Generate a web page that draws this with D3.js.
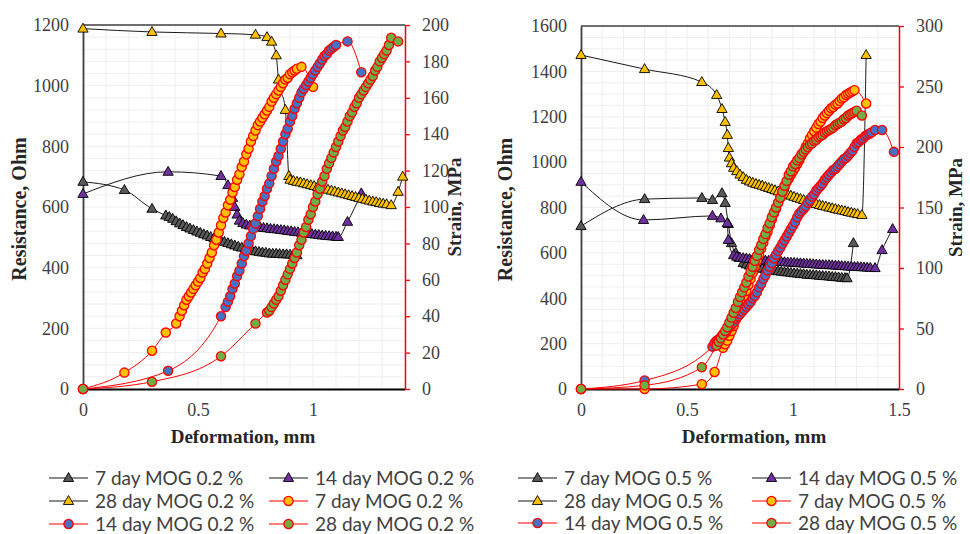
<!DOCTYPE html>
<html><head><meta charset="utf-8">
<script src="https://cdn.jsdelivr.net/npm/d3@7"></script>
<style>body{margin:0;background:#fff} svg{display:block}</style>
</head><body>
<svg id="c" width="970" height="534"></svg>
<script>
// ---------- DATA : MOG 0.2 % (left panel) ----------
const xTicksA = [0, 0.5, 1];
const resTicksA = [0, 200, 400, 600, 800, 1000, 1200];
const strTicksA = [0, 20, 40, 60, 80, 100, 120, 140, 160, 180, 200];
const labelsA = ["7 day MOG 0.2 %", "14 day MOG 0.2 %", "28 day MOG 0.2 %", "7 day MOG 0.2 %", "14 day MOG 0.2 %", "28 day MOG 0.2 %"];

const res7A = [[0,683],[0.18,656],[0.30,594],[0.36,572],[0.375,567],[0.39,561],[0.405,553],[0.42,546],[0.435,540],[0.45,534],[0.465,529],[0.48,524],[0.495,519],[0.51,515],[0.525,510],[0.54,506],[0.555,501],[0.57,497],[0.585,493],[0.60,489],[0.615,485],[0.63,481],[0.645,477],[0.66,473],[0.675,469],[0.69,466],[0.705,463],[0.72,460],[0.735,457],[0.75,454],[0.765,452],[0.78,450],[0.795,449],[0.81,447],[0.825,446],[0.84,446],[0.855,445],[0.87,444],[0.885,444],[0.90,443],[0.915,442],[0.93,441]];
const res14A = [[0,643],[0.37,716],[0.60,702],[0.63,672],[0.65,630],[0.66,600],[0.67,575],[0.68,555],[0.695,547],[0.71,542],[0.725,539],[0.74,537],[0.755,535],[0.77,533],[0.785,531],[0.80,530],[0.815,528],[0.83,527],[0.845,526],[0.86,524],[0.875,523],[0.89,521],[0.905,520],[0.92,518],[0.935,517],[0.95,515],[0.965,514],[0.98,512],[0.995,511],[1.01,509],[1.025,508],[1.04,506],[1.055,505],[1.07,504],[1.085,503],[1.10,502],[1.11,501],[1.15,551],[1.21,645]];
const res28A = [[0,1188],[0.30,1177],[0.60,1172],[0.75,1168],[0.80,1160],[0.82,1145],[0.84,1100],[0.85,1020],[0.88,920],[0.895,702],[0.90,690],[0.915,686],[0.93,683],[0.945,681],[0.96,678],[0.975,675],[0.99,672],[1.005,669],[1.02,666],[1.035,663],[1.05,660],[1.065,657],[1.08,654],[1.095,651],[1.11,648],[1.125,645],[1.14,642],[1.155,639],[1.17,636],[1.185,633],[1.20,630],[1.215,627],[1.23,624],[1.245,621],[1.26,618],[1.275,616],[1.29,613],[1.305,611],[1.32,609],[1.34,606],[1.37,650],[1.39,700]];
const str7A = [[0,0],[0.18,9],[0.30,21],[0.36,31],[0.405,36],[0.42,40],[0.43,43],[0.44,46],[0.45,49],[0.46,51],[0.47,53],[0.48,55],[0.49,57],[0.50,59],[0.51,61],[0.52,64],[0.53,66],[0.54,69],[0.55,72],[0.56,75],[0.57,79],[0.58,82],[0.59,86],[0.60,90],[0.61,94],[0.62,97],[0.63,101],[0.64,104],[0.65,108],[0.66,111],[0.67,115],[0.68,118],[0.69,122],[0.70,125],[0.71,129],[0.72,132],[0.73,136],[0.74,139],[0.75,142],[0.76,145],[0.77,147],[0.78,149],[0.79,151],[0.80,153],[0.81,155],[0.82,158],[0.83,160],[0.84,162],[0.85,164],[0.86,166],[0.87,168],[0.88,170],[0.89,171],[0.90,173],[0.91,174],[0.92,175],[0.93,176],[0.95,177],[1.00,166]];
const str14A = [[0,0],[0.37,10],[0.60,40],[0.62,45],[0.63,48],[0.64,51],[0.65,55],[0.66,58],[0.67,62],[0.68,65],[0.69,69],[0.70,73],[0.71,76],[0.72,80],[0.73,84],[0.74,88],[0.75,91],[0.76,95],[0.77,99],[0.78,103],[0.79,106],[0.80,110],[0.81,113],[0.82,117],[0.83,121],[0.84,125],[0.85,128],[0.86,132],[0.87,136],[0.88,140],[0.89,143],[0.90,147],[0.91,150],[0.92,154],[0.93,157],[0.94,160],[0.95,163],[0.96,165],[0.97,167],[0.98,169],[0.99,171],[1.00,173],[1.01,175],[1.02,177],[1.03,179],[1.04,181],[1.05,183],[1.06,184],[1.07,186],[1.08,187],[1.09,188],[1.10,189],[1.15,191],[1.21,174]];
const str28A = [[0,0],[0.30,4],[0.60,18],[0.75,36],[0.80,42],[0.81,43],[0.82,45],[0.83,47],[0.84,49],[0.85,51],[0.86,54],[0.87,57],[0.88,60],[0.89,63],[0.90,66],[0.91,69],[0.92,72],[0.93,75],[0.94,79],[0.95,82],[0.96,86],[0.97,89],[0.98,93],[0.99,96],[1.00,100],[1.01,103],[1.02,107],[1.03,110],[1.04,114],[1.05,117],[1.06,121],[1.07,124],[1.08,127],[1.09,130],[1.10,133],[1.11,136],[1.12,139],[1.13,142],[1.14,144],[1.15,147],[1.16,150],[1.17,152],[1.18,155],[1.19,157],[1.20,160],[1.21,162],[1.22,164],[1.23,166],[1.24,168],[1.25,170],[1.26,172],[1.27,175],[1.28,177],[1.29,180],[1.30,182],[1.31,184],[1.32,186],[1.33,189],[1.34,193],[1.37,191]];

// ---------- DATA : MOG 0.5 % (right panel) ----------
const xTicksB = [0, 0.5, 1, 1.5];
const resTicksB = [0, 200, 400, 600, 800, 1000, 1200, 1400, 1600];
const strTicksB = [0, 50, 100, 150, 200, 250, 300];
const labelsB = ["7 day MOG 0.5 %", "14 day MOG 0.5 %", "28 day MOG 0.5 %", "7 day MOG 0.5 %", "14 day MOG 0.5 %", "28 day MOG 0.5 %"];

const res7B = [[0,718],[0.30,837],[0.57,842],[0.62,833],[0.665,863],[0.68,820],[0.695,727],[0.71,643],[0.73,600],[0.745,578],[0.765,555],[0.78,549],[0.795,544],[0.81,540],[0.825,537],[0.84,533],[0.855,530],[0.87,527],[0.885,525],[0.90,523],[0.915,521],[0.93,519],[0.945,517],[0.96,515],[0.975,514],[0.99,512],[1.005,510],[1.02,509],[1.035,507],[1.05,506],[1.065,504],[1.08,503],[1.095,502],[1.11,501],[1.125,499],[1.14,498],[1.155,497],[1.17,496],[1.185,494],[1.20,493],[1.215,492],[1.23,490],[1.245,489],[1.255,488],[1.285,643]];
const res14B = [[0,913],[0.295,745],[0.62,763],[0.66,752],[0.69,731],[0.695,657],[0.72,590],[0.735,583],[0.75,579],[0.765,577],[0.78,575],[0.795,573],[0.81,572],[0.825,570],[0.84,569],[0.855,567],[0.87,566],[0.885,565],[0.90,563],[0.915,562],[0.93,561],[0.945,560],[0.96,559],[0.975,558],[0.99,557],[1.005,556],[1.02,555],[1.035,554],[1.05,553],[1.065,552],[1.08,551],[1.095,550],[1.11,549],[1.125,548],[1.14,547],[1.155,546],[1.17,546],[1.185,545],[1.20,544],[1.215,543],[1.23,542],[1.245,541],[1.26,540],[1.275,539],[1.29,538],[1.305,538],[1.32,537],[1.335,536],[1.35,535],[1.365,534],[1.387,533],[1.42,612],[1.47,705]];
const res28B = [[0,1472],[0.30,1410],[0.57,1353],[0.64,1296],[0.665,1234],[0.68,1177],[0.69,1120],[0.695,1062],[0.70,1020],[0.71,995],[0.72,975],[0.735,960],[0.75,945],[0.765,934],[0.78,922],[0.795,915],[0.81,909],[0.825,904],[0.84,900],[0.855,896],[0.87,891],[0.885,886],[0.90,881],[0.915,876],[0.93,871],[0.945,866],[0.96,861],[0.975,856],[0.99,852],[1.005,847],[1.02,842],[1.035,838],[1.05,833],[1.065,829],[1.08,824],[1.095,820],[1.11,815],[1.125,811],[1.14,807],[1.155,804],[1.17,800],[1.185,797],[1.20,793],[1.215,790],[1.23,787],[1.245,784],[1.26,780],[1.275,777],[1.29,774],[1.305,771],[1.325,767],[1.345,1472]];
const str7B = [[0,0],[0.30,0],[0.57,4],[0.63,14],[0.67,34],[0.68,37],[0.69,40],[0.70,44],[0.71,48],[0.72,52],[0.73,57],[0.74,62],[0.75,67],[0.76,72],[0.77,77],[0.78,81],[0.79,86],[0.80,91],[0.81,96],[0.82,101],[0.83,106],[0.84,111],[0.85,116],[0.86,121],[0.87,126],[0.88,130],[0.89,135],[0.90,140],[0.91,145],[0.92,149],[0.93,154],[0.94,158],[0.95,163],[0.96,167],[0.97,171],[0.98,174],[0.99,177],[1.00,180],[1.01,183],[1.02,186],[1.03,189],[1.04,193],[1.05,196],[1.06,200],[1.07,203],[1.08,207],[1.09,210],[1.10,213],[1.11,216],[1.12,219],[1.13,221],[1.14,224],[1.15,226],[1.16,228],[1.17,230],[1.18,232],[1.19,233],[1.20,235],[1.21,236],[1.22,238],[1.23,240],[1.24,241],[1.25,243],[1.26,244],[1.27,245],[1.28,246],[1.29,247],[1.345,236]];
const str14B = [[0,0],[0.30,7],[0.62,35],[0.63,38],[0.64,40],[0.65,41],[0.66,43],[0.67,45],[0.68,46],[0.69,49],[0.70,51],[0.71,53],[0.72,55],[0.73,58],[0.74,60],[0.75,62],[0.76,64],[0.77,66],[0.78,68],[0.79,70],[0.80,72],[0.81,75],[0.82,77],[0.83,80],[0.84,84],[0.85,87],[0.86,91],[0.87,94],[0.88,98],[0.89,101],[0.90,104],[0.91,108],[0.92,111],[0.93,114],[0.94,117],[0.95,120],[0.96,123],[0.97,126],[0.98,129],[0.99,132],[1.00,135],[1.01,138],[1.02,142],[1.03,145],[1.04,147],[1.05,149],[1.06,151],[1.07,154],[1.08,156],[1.09,159],[1.10,161],[1.11,164],[1.12,166],[1.13,168],[1.14,170],[1.15,173],[1.16,175],[1.17,177],[1.18,179],[1.19,181],[1.20,182],[1.21,184],[1.22,186],[1.23,188],[1.24,190],[1.25,191],[1.26,193],[1.27,195],[1.28,197],[1.29,200],[1.30,203],[1.31,204],[1.32,206],[1.33,207],[1.34,209],[1.35,210],[1.36,211],[1.37,212],[1.387,214],[1.42,214],[1.476,196]];
const str28B = [[0,0],[0.30,3],[0.57,18],[0.64,36],[0.65,39],[0.66,42],[0.67,45],[0.68,48],[0.69,51],[0.70,55],[0.71,59],[0.72,63],[0.73,67],[0.74,72],[0.75,76],[0.76,80],[0.77,84],[0.78,88],[0.79,93],[0.80,97],[0.81,101],[0.82,106],[0.83,110],[0.84,115],[0.85,119],[0.86,124],[0.87,128],[0.88,133],[0.89,137],[0.90,142],[0.91,146],[0.92,150],[0.93,154],[0.94,158],[0.95,163],[0.96,168],[0.97,172],[0.98,177],[0.99,180],[1.00,184],[1.01,186],[1.02,189],[1.03,191],[1.04,194],[1.05,196],[1.06,198],[1.07,200],[1.08,202],[1.09,203],[1.10,205],[1.11,206],[1.12,208],[1.13,209],[1.14,210],[1.15,212],[1.16,213],[1.17,214],[1.18,215],[1.19,216],[1.20,218],[1.21,219],[1.22,220],[1.23,221],[1.24,223],[1.25,224],[1.26,226],[1.27,227],[1.28,228],[1.29,229],[1.30,230],[1.325,226]];

// ---------- STYLE ----------
const triFill = ["#595959", "#7030a0", "#ffc000"];
const cirFill = ["#ffc000", "#4472c4", "#70ad47"];
const serif = "'Liberation Serif','Times New Roman',serif";
const sans = "Lato,'Liberation Sans',sans-serif";
const txtCol = "#404040";

const svg = d3.select("#c");

function marker(sel, kind, fill) {
  if (kind === "tri") {
    sel.append("path").attr("d", d3.symbol().type(d3.symbolTriangle).size(46)())
      .attr("fill", fill).attr("stroke", "#000").attr("stroke-width", 0.9);
  } else {
    sel.append("circle").attr("r", 4.6).attr("fill", fill)
      .attr("stroke", "#ff0000").attr("stroke-width", 1.3);
  }
}

function panel(p) {
  const x = d3.scaleLinear().domain([0, p.xMax]).range([p.left, p.right]);
  const yL = d3.scaleLinear().domain([0, p.resMax]).range([p.bottom, p.top]);
  const yR = d3.scaleLinear().domain([0, p.strMax]).range([p.bottom, p.top]);
  const g = svg.append("g");

  // grid
  const grid = g.append("g").attr("stroke", "#eeeeee").attr("stroke-width", 1);
  grid.selectAll(".v").data(x.ticks(Math.round(p.xMax * 10))).join("line")
    .attr("x1", d => x(d)).attr("x2", d => x(d)).attr("y1", p.top).attr("y2", p.bottom);
  grid.selectAll(".h").data(d3.range(0, p.resMax + 1, p.gridStep)).join("line")
    .attr("x1", p.left).attr("x2", p.right).attr("y1", d => yL(d)).attr("y2", d => yL(d));

  // top border
  g.append("line").attr("x1", p.left).attr("x2", p.right).attr("y1", p.top).attr("y2", p.top)
    .attr("stroke", "#404040").attr("stroke-width", 1.5);

  // axes
  const axL = g.append("g").attr("transform", `translate(${p.left},0)`)
    .call(d3.axisLeft(yL).tickValues(p.resTicks).tickSize(0).tickPadding(14).tickFormat(d3.format("d")));
  axL.select(".domain").attr("stroke", "#404040").attr("stroke-width", 1.8);
  axL.selectAll("text").attr("font-family", serif).attr("font-size", 18).attr("fill", txtCol);

  const axB = g.append("g").attr("transform", `translate(0,${p.bottom})`)
    .call(d3.axisBottom(x).tickValues(p.xTicks).tickSize(0).tickPadding(14).tickFormat(d3.format("")));
  axB.select(".domain").attr("stroke", "#000").attr("stroke-width", 1.8);
  axB.selectAll("text").attr("font-family", serif).attr("font-size", 18).attr("fill", txtCol);

  const axR = g.append("g").attr("transform", `translate(${p.right},0)`)
    .call(d3.axisRight(yR).tickValues(p.strTicks).tickSize(5).tickSizeOuter(0).tickPadding(12));
  axR.select(".domain").attr("stroke", "#ff0000").attr("stroke-width", 1.5);
  axR.selectAll(".tick line").attr("stroke", "#ff0000").attr("stroke-width", 1.3);
  axR.selectAll("text").attr("font-family", serif).attr("font-size", 18).attr("fill", txtCol);

  // axis titles
  g.append("text").attr("transform", `translate(${p.resLabelX},${(p.top + p.bottom) / 2 + 2}) rotate(-90)`)
    .attr("text-anchor", "middle").attr("font-family", serif).attr("font-weight", "bold")
    .attr("font-size", 20).attr("fill", "#262626").text("Resistance, Ohm");
  g.append("text").attr("transform", `translate(${p.strLabelX},${(p.top + p.bottom) / 2}) rotate(-90)`)
    .attr("text-anchor", "middle").attr("font-family", serif).attr("font-weight", "bold")
    .attr("font-size", 19).attr("fill", "#262626").text("Strain, MPa");
  g.append("text").attr("x", p.xLabelX).attr("y", p.xLabelY)
    .attr("text-anchor", "middle").attr("font-family", serif).attr("font-weight", "bold")
    .attr("font-size", 19).attr("fill", "#262626").text("Deformation, mm");

  // series
  const lineL = d3.line().x(d => x(d[0])).y(d => yL(d[1])).curve(d3.curveMonotoneX);
  const lineR = d3.line().x(d => x(d[0])).y(d => yR(d[1])).curve(d3.curveMonotoneX);
  const plot = g.append("g");
  p.res.forEach((s, i) => {
    const sg = plot.append("g");
    sg.append("path").attr("d", lineL(s)).attr("fill", "none").attr("stroke", "#1a1a1a").attr("stroke-width", 1);
    sg.selectAll("g").data(s).join("g").attr("transform", d => `translate(${x(d[0])},${yL(d[1]) + 0.5})`)
      .each(function () { marker(d3.select(this), "tri", triFill[i]); });
  });
  p.str.forEach((s, i) => {
    const sg = plot.append("g");
    sg.append("path").attr("d", lineR(s)).attr("fill", "none").attr("stroke", "#ff0000").attr("stroke-width", 1);
    sg.selectAll("g").data(s).join("g").attr("transform", d => `translate(${x(d[0])},${yR(d[1])})`)
      .each(function () { marker(d3.select(this), "cir", cirFill[i]); });
  });

  // legend
  const lg = g.append("g");
  p.labels.forEach((lab, i) => {
    const col = i % 2, row = Math.floor(i / 2);
    const lx = p.legCols[col], ly = p.legRows[row];
    const isTri = i < 3;
    const e = lg.append("g").attr("transform", `translate(${lx},${ly})`);
    e.append("line").attr("x1", 0).attr("x2", 39).attr("y1", 0).attr("y2", 0)
      .attr("stroke", isTri ? "#1a1a1a" : "#ff0000").attr("stroke-width", 1.2);
    const m = e.append("g").attr("transform", `translate(19.5,${isTri ? 0.5 : 0})`);
    marker(m, isTri ? "tri" : "cir", isTri ? triFill[i] : cirFill[i - 3]);
    e.append("text").attr("x", 46).attr("y", 0).attr("dy", "0.36em")
      .attr("font-family", sans).attr("font-size", 19).attr("fill", txtCol).text(lab);
  });
}

panel({
  left: 83, right: 405, top: 25, bottom: 389,
  xMax: 1.4, resMax: 1200, strMax: 200, gridStep: 40,
  xTicks: xTicksA, resTicks: resTicksA, strTicks: strTicksA,
  res: [res7A, res14A, res28A], str: [str7A, str14A, str28A], labels: labelsA,
  resLabelX: 26, strLabelX: 461, xLabelX: 243, xLabelY: 443,
  legCols: [49, 269], legRows: [478, 501, 524]
});
panel({
  left: 581, right: 899, top: 26, bottom: 389,
  xMax: 1.5, resMax: 1600, strMax: 300, gridStep: 50,
  xTicks: xTicksB, resTicks: resTicksB, strTicks: strTicksB,
  res: [res7B, res14B, res28B], str: [str7B, str14B, str28B], labels: labelsB,
  resLabelX: 512, strLabelX: 962, xLabelX: 754, xLabelY: 443,
  legCols: [518, 752], legRows: [478, 501, 523]
});
</script>
</body></html>
